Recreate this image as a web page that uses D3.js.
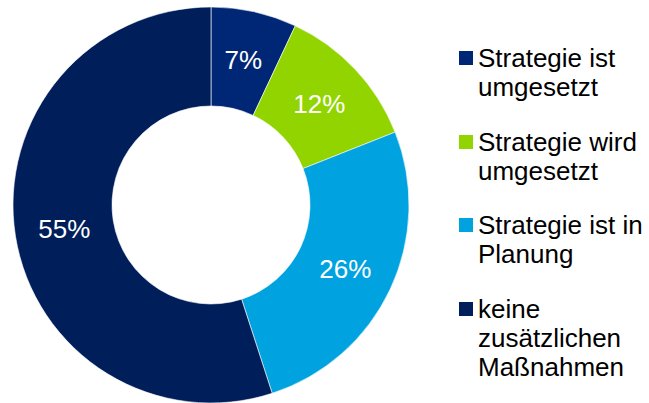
<!DOCTYPE html>
<html>
<head>
<meta charset="utf-8">
<script src="https://cdn.jsdelivr.net/npm/d3@7"></script>
<style>
  body { margin: 0; background: #fff; }
  svg { display: block; font-family: "Liberation Sans", Arial, sans-serif; }
</style>
</head>
<body>
<svg id="chart" width="649" height="403"></svg>
<script>
const categories = ["Strategie ist umgesetzt", "Strategie wird umgesetzt", "Strategie ist in Planung", "keine zusätzlichen Maßnahmen"]
const values = [7, 12, 26, 55]
const colors = ["#002776", "#92D400", "#00A3E0", "#001E5A"]
const legendLines = [["Strategie ist", "umgesetzt"], ["Strategie wird", "umgesetzt"], ["Strategie ist in", "Planung"], ["keine", "zusätzlichen", "Maßnahmen"]]

const svg = d3.select("#chart")
const cx = 211, cy = 205, outer = 198, inner = 99

const pie = d3.pie().sort(null).value(d => d)
const arc = d3.arc().innerRadius(inner).outerRadius(outer)

const color = d3.scaleOrdinal().domain(categories).range(colors)

const g = svg.append("g").attr("transform", `translate(${cx}, ${cy})`)

const arcs = pie(values)

g.selectAll("path")
    .data(arcs)
    .join("path")
    .attr("d", arc)
    .attr("fill", (d, i) => color(categories[i]))
    .attr("stroke", "#fff")
    .attr("stroke-width", 0.6)

g.selectAll("text")
    .data(arcs)
    .join("text")
    .attr("transform", d => `translate(${arc.centroid(d)})`)
    .attr("text-anchor", "middle")
    .attr("dy", "0.36em")
    .attr("fill", "#fff")
    .style("font-size", "26px")
    .text(d => d.data + "%")

// legend
const legend = svg.append("g").attr("transform", "translate(459, 0)")
const baselines = [67, 151, 234, 318]
const lineH = 29

categories.forEach((c, i) => {
    const item = legend.append("g")
    item.append("rect")
        .attr("x", 0)
        .attr("y", baselines[i] - 16)
        .attr("width", 14)
        .attr("height", 14)
        .attr("fill", color(c))
    legendLines[i].forEach((line, j) => {
        item.append("text")
            .attr("x", 19)
            .attr("y", baselines[i] + j * lineH)
            .attr("fill", "#000")
            .style("font-size", "26px")
            .text(line)
    })
})
</script>
</body>
</html>
